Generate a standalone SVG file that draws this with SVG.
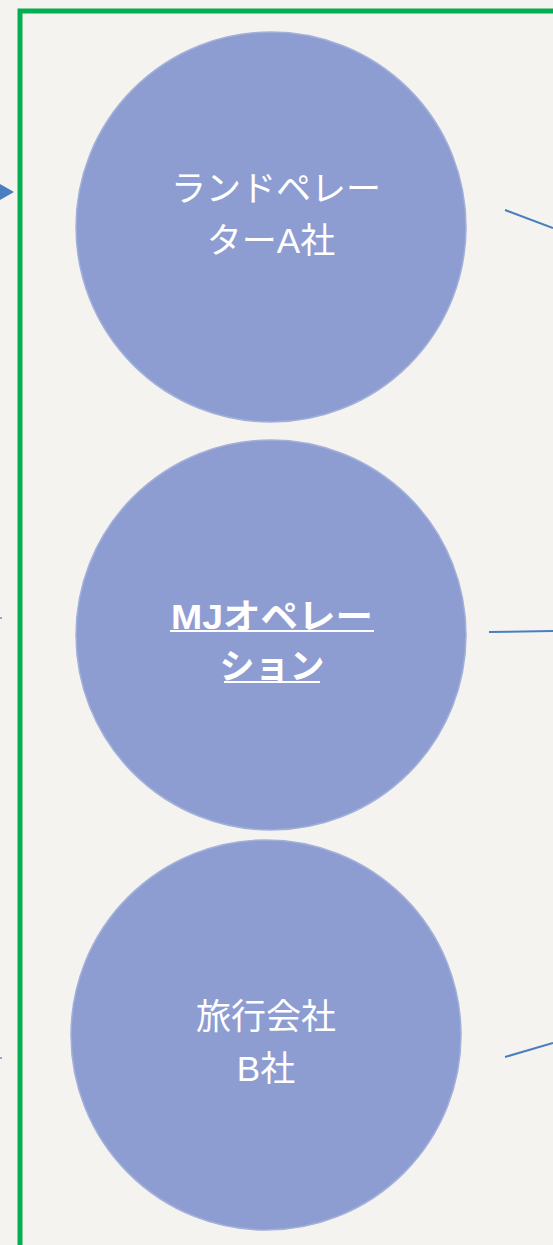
<svg xmlns="http://www.w3.org/2000/svg" width="553" height="1245" viewBox="0 0 553 1245">
<style>
.n{fill:#8E9DD1;stroke:#A3B0DA;stroke-width:1.5}
.t{font-family:"Liberation Sans","Noto Sans CJK JP",sans-serif;font-size:35px;fill:#fff;text-anchor:middle}
.b{font-weight:bold}
.c{stroke:#4A7EC0;stroke-width:2;fill:none}
</style>
<rect width="553" height="1245" fill="#F4F3EF"/>
<rect x="20" y="11" width="560" height="1260" fill="none" stroke="#00B050" stroke-width="5"/>
<g id="connectors">
<polygon points="0,184 14,192 0,200" fill="#4A7EC0"/>
<line class="c" x1="505" y1="210" x2="553" y2="228"/>
<line class="c" x1="489" y1="632" x2="553" y2="631"/>
<line class="c" x1="505" y1="1057" x2="553" y2="1043"/>
<rect x="0" y="617" width="2" height="2" fill="#8FA6D6"/>
<rect x="0" y="1057" width="2" height="2" fill="#8FA6D6"/>
</g>
<g id="node-a">
<circle class="n" cx="271" cy="227" r="195"/>
<text class="t" x="276" y="201">ランドペレー</text>
<text class="t" x="271" y="253">ターA社</text>
</g>
<g id="node-mj">
<circle class="n" cx="271" cy="635" r="195"/>
<text class="t b" x="272" y="629" textLength="202" lengthAdjust="spacingAndGlyphs">MJオペレー</text>
<text class="t b" x="272" y="679">ション</text>
<line x1="170" y1="631" x2="374" y2="631" stroke="#fff" stroke-width="2"/>
<line x1="224" y1="682" x2="320" y2="682" stroke="#fff" stroke-width="2"/>
</g>
<g id="node-b">
<circle class="n" cx="266" cy="1035" r="195"/>
<text class="t" x="266" y="1029">旅行会社</text>
<text class="t" x="266" y="1081">B社</text>
</g>
</svg>
